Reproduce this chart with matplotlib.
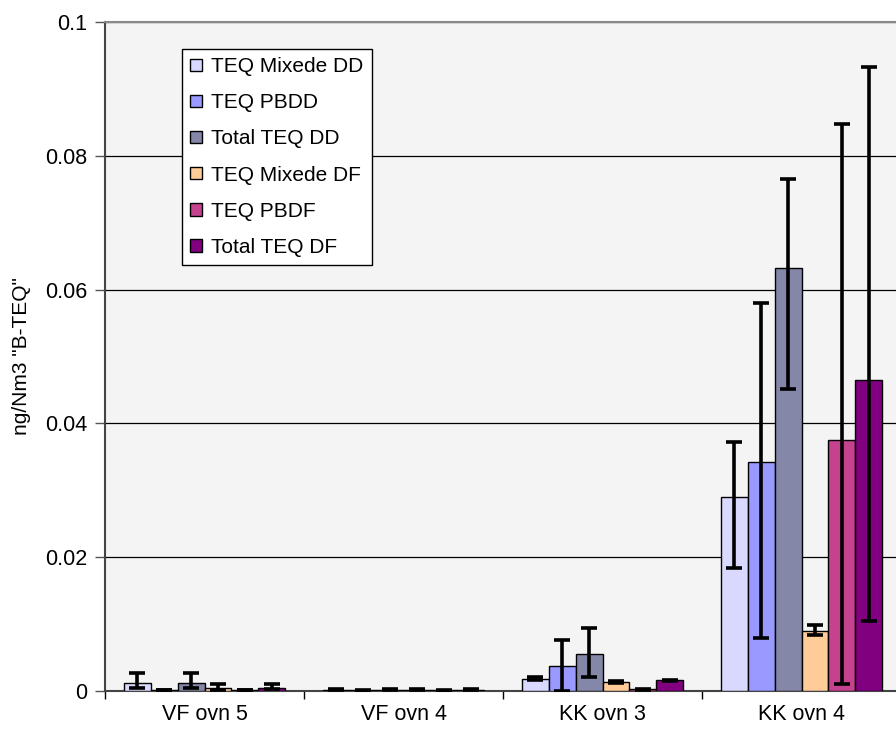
import matplotlib
matplotlib.use("Agg")
import matplotlib.pyplot as plt
import numpy as np

plt.rcParams['font.family'] = ['Liberation Sans', 'DejaVu Sans']

categories = ["VF ovn 5", "VF ovn 4", "KK ovn 3", "KK ovn 4"]
series_names = ["TEQ Mixede DD", "TEQ PBDD", "Total TEQ DD",
                "TEQ Mixede DF", "TEQ PBDF", "Total TEQ DF"]
colors = ["#D9D9FF", "#9999FF", "#8487A8", "#FFCC99", "#C4428E", "#800080"]

# values per series, one entry per category
mixede_dd = [0.00115, 0.0002, 0.00184, 0.0290]
pbdd = [0.0001, 0.0001, 0.00374, 0.0343]
total_dd = [0.00115, 0.0002, 0.00558, 0.0633]
mixede_df = [0.0004, 0.0002, 0.00135, 0.0090]
pbdf = [0.0001, 0.0001, 0.00025, 0.0375]
total_df = [0.0005, 0.0002, 0.0016, 0.0465]

# error bars (lower, upper)
mixede_dd_lo = [0.0007, 0.0001, 0.0002, 0.0106]
mixede_dd_hi = [0.0015, 0.0001, 0.0002, 0.0082]
pbdd_lo = [0.0, 0.0001, 0.0037, 0.0264]
pbdd_hi = [0.0, 0.0001, 0.0039, 0.0237]
total_dd_lo = [0.0007, 0.0001, 0.0035, 0.0181]
total_dd_hi = [0.0015, 0.0001, 0.0038, 0.0133]
mixede_df_lo = [0.0002, 0.0001, 0.0001, 0.0006]
mixede_df_hi = [0.0007, 0.0001, 0.0001, 0.0008]
pbdf_lo = [0.0, 0.0001, 0.0001, 0.0365]
pbdf_hi = [0.0, 0.0001, 0.0001, 0.0473]
total_df_lo = [0.0002, 0.0001, 0.0001, 0.0361]
total_df_hi = [0.0006, 0.0001, 0.0001, 0.0468]

values = [mixede_dd, pbdd, total_dd, mixede_df, pbdf, total_df]
err_lo = [mixede_dd_lo, pbdd_lo, total_dd_lo, mixede_df_lo, pbdf_lo, total_df_lo]
err_hi = [mixede_dd_hi, pbdd_hi, total_dd_hi, mixede_df_hi, pbdf_hi, total_df_hi]

yticks = [0, 0.02, 0.04, 0.06, 0.08, 0.1]
ytick_labels = ["0", "0.02", "0.04", "0.06", "0.08", "0.1"]

W, H = 896, 733
fig = plt.figure(figsize=(W / 100, H / 100), dpi=100)
fig.patch.set_facecolor("white")
ax = fig.add_axes([105 / W, (H - 691) / H, 796 / W, 669 / H])
ax.set_facecolor("#F4F4F4")

x = np.arange(len(categories))
bw = 0.135
n = len(values)
handles = []
for i, (vals, lo, hi, c, name) in enumerate(zip(values, err_lo, err_hi, colors, series_names)):
    pos = x + (i - (n - 1) / 2) * bw
    b = ax.bar(pos, vals, width=bw, color=c, edgecolor="black", linewidth=1.0,
               label=name, zorder=3)
    handles.append(b)
    ax.errorbar(pos, vals, yerr=[lo, hi], fmt="none", ecolor="black",
                elinewidth=2.6, capsize=5.5, capthick=2.6, zorder=4)

ax.set_xlim(-0.5, len(categories) - 0.5)
ax.set_ylim(0, 0.1)
ax.set_yticks(yticks)
ax.set_yticklabels(ytick_labels, fontsize=15.5)
ax.yaxis.grid(True, color="black", linewidth=0.9, zorder=0)
ax.set_axisbelow(True)

ax.set_xticks(x)
ax.set_xticklabels(categories, fontsize=15.5)
ax.tick_params(axis="x", which="major", length=0, pad=9)
ax.set_xticks(np.arange(len(categories) + 1) - 0.5, minor=True)
ax.tick_params(axis="x", which="minor", length=6, width=1, color="black", direction="out")
ax.tick_params(axis="y", length=7, width=1, color="#555555", direction="out", pad=6)

ax.spines["right"].set_visible(False)
ax.spines["top"].set_color("#888888")
ax.spines["top"].set_linewidth(1.5)
ax.spines["left"].set_color("#444444")
ax.spines["left"].set_linewidth(1.5)
ax.spines["bottom"].set_color("#444444")
ax.spines["bottom"].set_linewidth(1.5)

ax.set_ylabel('ng/Nm3 "B-TEQ"', fontsize=15)
ax.yaxis.set_label_coords(-74 / 796, 0.5)

leg = fig.legend(handles=handles, labels=series_names, loc="upper left",
                 bbox_to_anchor=(182 / W, 1 - 49 / H), fontsize=15,
                 frameon=True, fancybox=False, shadow=False, borderpad=0.4,
                 handlelength=0.55, handleheight=0.55, handletextpad=0.45,
                 labelspacing=0.82, borderaxespad=0)
leg.get_frame().set_edgecolor("black")
leg.get_frame().set_linewidth(1.0)
leg.get_frame().set_facecolor("white")
leg.get_frame().set_alpha(1)

fig.savefig("out.png", dpi=100)
